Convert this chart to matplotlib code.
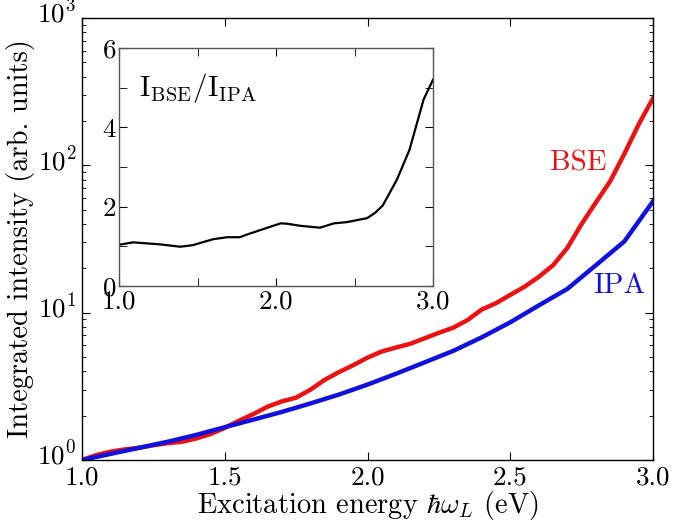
import matplotlib
matplotlib.use('Agg')
import matplotlib.pyplot as plt
from matplotlib.ticker import MultipleLocator, FixedLocator, FormatStrFormatter
from matplotlib.transforms import ScaledTranslation

# ── Data ──
e_bse = [1.00, 1.05, 1.10, 1.15, 1.20, 1.25, 1.30, 1.35, 1.40, 1.45, 1.50,
         1.55, 1.60, 1.65, 1.70, 1.75, 1.80, 1.85, 1.90, 1.95, 2.00, 2.05,
         2.10, 2.15, 2.20, 2.25, 2.30, 2.35, 2.40, 2.45, 2.50, 2.55, 2.60,
         2.65, 2.70, 2.75, 2.80, 2.85, 2.90, 2.95, 3.00]
bse = [1.00, 1.08, 1.14, 1.18, 1.21, 1.26, 1.30, 1.33, 1.40, 1.50, 1.65,
       1.85, 2.05, 2.30, 2.50, 2.65, 3.00, 3.50, 3.95, 4.40, 4.95, 5.45,
       5.80, 6.15, 6.70, 7.30, 7.90, 8.90, 10.5, 11.6, 13.2, 15.0, 17.5,
       21.0, 27.5, 40.0, 56.0, 78.0, 120.0, 190.0, 285.0]

e_ipa = [1.00, 1.10, 1.20, 1.30, 1.40, 1.50, 1.60, 1.70, 1.80, 1.90, 2.00,
         2.10, 2.20, 2.30, 2.40, 2.50, 2.60, 2.70, 2.80, 2.90, 3.00]
ipa = [1.00, 1.10, 1.21, 1.33, 1.48, 1.67, 1.88, 2.12, 2.42, 2.78, 3.25,
       3.85, 4.60, 5.50, 6.80, 8.60, 11.2, 14.5, 21.0, 30.5, 57.0]

# ratio I_BSE / I_IPA (inset)
e_ratio = [1.00, 1.09, 1.26, 1.39, 1.47, 1.60, 1.69, 1.77, 1.81, 1.90, 2.03,
           2.07, 2.15, 2.28, 2.37, 2.45, 2.58, 2.63, 2.68, 2.77, 2.85, 2.94, 3.00]
ratio = [1.04, 1.10, 1.05, 0.99, 1.03, 1.18, 1.23, 1.23, 1.29, 1.41, 1.58,
         1.57, 1.52, 1.47, 1.58, 1.61, 1.71, 1.84, 2.03, 2.68, 3.43, 4.70, 5.20]

# ── Style ──
plt.rcParams.update({
    'font.family': 'serif',
    'font.serif': ['cmr10'],
    'mathtext.fontset': 'cm',
    'axes.formatter.use_mathtext': True,
    'font.size': 20.5,
    'xtick.labelsize': 19.5,
    'ytick.labelsize': 19.5,
    'axes.linewidth': 1.0,
    'xtick.direction': 'in',
    'ytick.direction': 'in',
    'xtick.top': True,
    'ytick.right': True,
    'xtick.major.size': 6,
    'ytick.major.size': 6,
    'xtick.minor.size': 3,
    'ytick.minor.size': 3,
    'xtick.major.pad': 4,
    'ytick.major.pad': 4,
})

fig = plt.figure(figsize=(6.75, 5.23), dpi=100)
ax = fig.add_axes([82 / 675, 1 - 460 / 523, (653 - 82) / 675, (460 - 18) / 523])

ax.plot(e_bse, bse, color='#ee1111', lw=3.2)
ax.plot(e_ipa, ipa, color='#1111dd', lw=3.2)
ax.set_yscale('log')
ax.set_xlim(1.0, 3.0)
ax.set_ylim(1, 1000)
ax.xaxis.set_major_locator(MultipleLocator(0.5))
ax.xaxis.set_major_formatter(FormatStrFormatter('%.1f'))
ax.set_xlabel(r'Excitation energy $\hbar\omega_L$ (eV)', labelpad=0)
ax.set_ylabel('Integrated intensity (arb. units)', labelpad=2)
ax.text(0.870, 0.671, 'BSE', color='#ee1111', transform=ax.transAxes,
        fontsize=21, ha='center', va='center')
ax.text(0.942, 0.395, 'IPA', color='#1111dd', transform=ax.transAxes,
        fontsize=21, ha='center', va='center')

# log labels sit a bit higher in the original (baseline near the tick)
shift = ScaledTranslation(0, 5 / 72, fig.dpi_scale_trans)
for lab in ax.get_yticklabels():
    lab.set_transform(lab.get_transform() + shift)

# ── Inset ──
ins = fig.add_axes([119 / 675, 1 - 286 / 523, (433 - 119) / 675, (286 - 48) / 523])
ins.plot(e_ratio, ratio, color='black', lw=1.6)
ins.set_xlim(1.0, 3.0)
ins.set_ylim(0, 6)
ins.xaxis.set_major_locator(FixedLocator([1.0, 2.0, 3.0]))
ins.xaxis.set_minor_locator(FixedLocator([1.5, 2.5]))
ins.xaxis.set_major_formatter(FormatStrFormatter('%.1f'))
ins.yaxis.set_major_locator(MultipleLocator(2))
ins.yaxis.set_minor_locator(MultipleLocator(1))
ins.tick_params(which='minor', length=6)
ins.tick_params(axis='y', pad=2)
ins.tick_params(axis='x', pad=3)
for s in ins.spines.values():
    s.set_color('#555555')
ins.text(0.065, 0.83, r'$\mathrm{I_{BSE}/I_{IPA}}$', transform=ins.transAxes,
         fontsize=21, ha='left', va='center')

fig.savefig('out.png', dpi=100)
